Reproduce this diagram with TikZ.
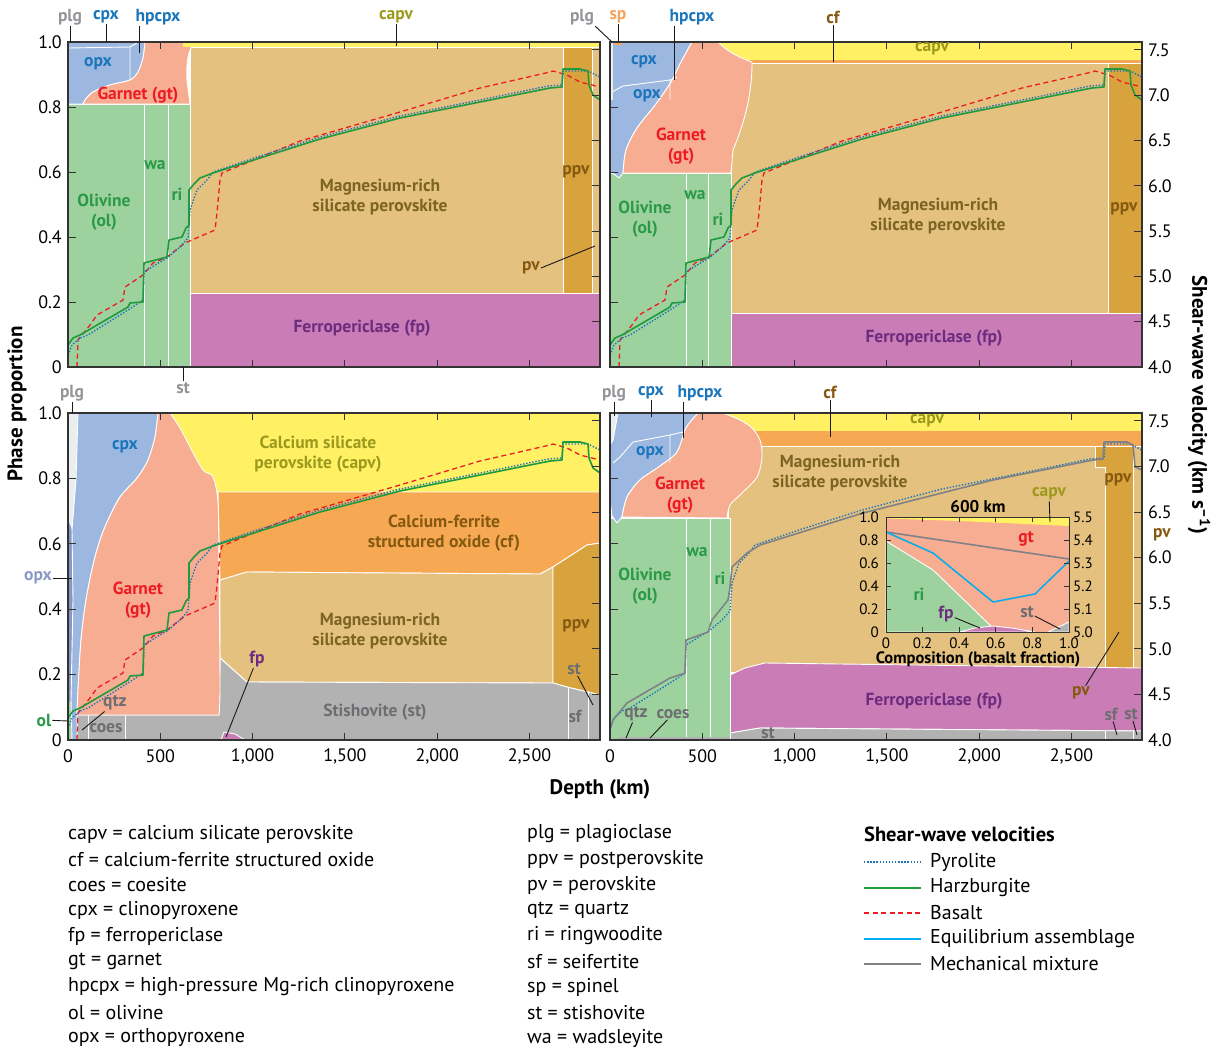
\documentclass[tikz,border=0pt]{standalone}
\usepackage{fontspec}
\setmainfont{PT Sans}
\usetikzlibrary{positioning}

\definecolor{olgreen}{HTML}{9DD29E}
\definecolor{pxblue}{HTML}{9DB8E0}
\definecolor{opxslate}{HTML}{8896C6}
\definecolor{gtpink}{HTML}{F6AD92}
\definecolor{pvtan}{HTML}{E5C17F}
\definecolor{fpmag}{HTML}{C97CB5}
\definecolor{capvyel}{HTML}{FFF163}
\definecolor{ppvgold}{HTML}{D8A33D}
\definecolor{cforange}{HTML}{F6A853}
\definecolor{stgrey}{HTML}{B2B2B2}
\definecolor{plggrey}{HTML}{ECEDEE}
\definecolor{txgreen}{HTML}{2A9A48}
\definecolor{txblue}{HTML}{1A75BB}
\definecolor{txred}{HTML}{EC1C24}
\definecolor{txbrown}{HTML}{7C6422}
\definecolor{txpurple}{HTML}{6E2C80}
\definecolor{txolive}{HTML}{9C9A1E}
\definecolor{txgold}{HTML}{85590F}
\definecolor{txgrey}{HTML}{6D6E71}
\definecolor{txlight}{HTML}{939598}
\definecolor{txorange}{HTML}{F7A35C}
\definecolor{txslate}{HTML}{8A9AC8}
\definecolor{pyroblue}{HTML}{1C75BC}
\definecolor{harzgreen}{HTML}{1F9A3F}
\definecolor{basaltred}{HTML}{ED1C24}
\definecolor{equilblue}{HTML}{00AEEF}
\definecolor{mixgrey}{HTML}{808285}

% velocity profiles
\newcommand{\pyroprofile}{(68,355) -- (72,345) -- (80,338) -- (88,335) -- (128,310) -- (143,300) -- (144,272) -- (160,262) -- (167,258) -- (180,247) -- (188,238) -- (190,210) -- (197,190) -- (207,180) -- (213,172) -- (260,156) -- (320,137) -- (400,116) -- (480,100) -- (548,86) -- (562,85) -- (563,71) -- (588,71) -- (598,76) -- (600,77)}
\newcommand{\harzprofile}{(68,345) -- (73,338) -- (80,335) -- (128,307) -- (130,303) -- (143,302) -- (144,263) -- (167,257) -- (169,240) -- (182,237) -- (186,228) -- (189,225) -- (189,190) -- (194,184) -- (200,178) -- (213,173) -- (260,158) -- (320,139) -- (400,118) -- (480,102) -- (550,88) -- (562,87) -- (563,69) -- (580,69) -- (588,71) -- (589,85) -- (593,95) -- (600,100)}
\newcommand{\basaltprofile}{(77,367) -- (78,340) -- (90,325) -- (97,315) -- (123,300) -- (125,287) -- (143,275) -- (153,263) -- (167,257) -- (185,243) -- (215,230) -- (217,213) -- (220,180) -- (222,173) -- (300,141) -- (400,112) -- (480,88) -- (550,72) -- (553,71) -- (567,75) -- (580,82) -- (600,87)}
\newcommand{\mixprofile}{(610,730) -- (613,720) -- (627,703) -- (670,678) -- (685,673) -- (686,640) -- (708,632) -- (712,620) -- (728,600) -- (730,587) -- (732,567) -- (747,553) -- (760,545) -- (863,513) -- (993,480) -- (1093,460) -- (1103,459) -- (1104,442) -- (1127,442) -- (1133,445) -- (1135,467) -- (1142,470)}

\begin{document}
\begin{tikzpicture}[x = 1pt, y = -1pt,
    phase/.style = {draw = white, line width = 0.9pt, line join = round},
    divider/.style = {draw = white, line width = 0.9pt},
    frame/.style = {draw = black!80, line width = 1.1pt},
    tickmark/.style = {draw = black!80, line width = 1pt},
    leader/.style = {draw = black!90, line width = 0.9pt},
    lbl/.style = {font = \bfseries\fontsize{17.5}{19.5}\selectfont, align = center, inner sep = 1pt},
    num/.style = {font = \fontsize{18}{18}\selectfont, inner sep = 1pt},
    insetnum/.style = {font = \fontsize{15}{15}\selectfont, inner sep = 1pt},
    title/.style = {font = \bfseries\fontsize{21}{22}\selectfont, inner sep = 1pt},
    legtext/.style = {font = \fontsize{20}{21}\selectfont, anchor = west, inner sep = 0pt},
    pyro/.style = {draw = pyroblue, line width = 1.4pt, dash pattern = on 1.4pt off 1.7pt},
    harz/.style = {draw = harzgreen, line width = 1.6pt, line join = round},
    basalt/.style = {draw = basaltred, line width = 1.3pt, dash pattern = on 5pt off 3.5pt},
    equil/.style = {draw = equilblue, line width = 1.5pt, line join = round},
    mix/.style = {draw = mixgrey, line width = 1.6pt, line join = round}]
\useasboundingbox (0,0) rectangle (1212,1050);

% top left: pyrolite
\filldraw[pvtan, phase] (190,47) rectangle (563,293);
\filldraw[ppvgold, phase] (563,47) rectangle (592,293);
\filldraw[pvtan, phase] (592,47) rectangle (600,293);
\filldraw[fpmag, phase] (190,293) rectangle (600,367);
\filldraw[olgreen, phase] (68,104) rectangle (190,367);
\draw[divider] (144,104) -- (144,367) (168,104) -- (168,367);
\filldraw[pxblue, phase] (68,42) -- (145,42) -- plot[smooth] coordinates {(145,42) (143,58) (138,72) (130,80) (110,85) (93,92) (85,100) (83,104)} -- (68,104) -- cycle;
\filldraw[gtpink, phase] (83,104) -- plot[smooth] coordinates {(83,104) (85,100) (93,92) (110,85) (130,80) (138,72) (143,58) (145,42)} -- (195,42) .. controls (188,50) and (186,62) .. (187,80) -- (190,104) -- cycle;
\draw[divider] (68,48) -- (130,47) -- (137,43) (130,47) -- (130,80);
\fill[capvyel] (183,42) rectangle (600,47);

% top right: harzburgite
\fill[capvyel] (700,42) rectangle (1142,60);
\fill[cforange] (745,60) rectangle (1142,63.5);
\filldraw[pvtan, phase] (731,63.5) rectangle (1108,313);
\filldraw[ppvgold, phase] (1108,63.5) rectangle (1142,313);
\filldraw[fpmag, phase] (731,313) rectangle (1142,367);
\filldraw[olgreen, phase] (610,173) rectangle (731,367);
\draw[divider] (686,173) -- (686,367) (708,173) -- (708,367);
\filldraw[pxblue, phase] (610,42) -- (692,42) -- plot[smooth] coordinates {(692,42) (681,62) (671,82) (656,104) (637,128) (626,150) (623,173)} -- (619,178) -- (614,174) -- (610,173) -- cycle;
\filldraw[gtpink, phase] (623,173) -- plot[smooth] coordinates {(623,173) (626,150) (637,128) (656,104) (671,82) (681,62) (692,42)} -- (718,42) .. controls (728,52) and (740,58) .. (752,62) .. controls (752,100) and (742,128) .. (733,150) -- (731,173) -- cycle;
\draw[divider] (612,92) -- (623,86) -- (670,80) -- (677,77) (670,80) -- (670,100);
\fill[plggrey] (610,42) rectangle (613,100);
\fill[txorange] (614,42) rectangle (622,45);

% bottom left: basalt
\fill[capvyel] (160,413) rectangle (600,492);
\filldraw[cforange, phase] (218,492) -- (600,492) -- (600,543) -- (587,545) -- (553,567) -- (540,574) -- (247,572) -- (220,580) -- cycle;
\filldraw[pvtan, phase] (220,580) -- (247,572) -- (540,574) -- (553,567) -- (553,683) -- (247,682) -- (220,658) -- cycle;
\filldraw[ppvgold, phase] (553,567) -- (587,545) -- (600,543) -- (600,695) -- (567,687) -- (553,683) -- cycle;
\filldraw[stgrey, phase] (220,658) -- (247,682) -- (553,683) -- (567,687) -- (600,695) -- (600,740) -- (77,740) -- (77,715) -- (219,715) -- cycle;
\draw[divider] (88,715) -- (88,740) (125,715) -- (125,740) (568,687) -- (568,740) (588,691) -- (588,740);
\filldraw[fpmag, phase] (221,740) -- (224,732) -- (235,734) -- (245,740) -- cycle;
\fill[plggrey] (68,413) -- (78,413) -- (76,480) -- (72,530) -- (68,540) -- cycle;
\fill[opxslate] (68,520) -- (72,530) -- (73,600) -- (71,700) -- (68,705) -- cycle;
\fill[olgreen] (68,705) -- (71,700) -- (72,740) -- (68,740) -- cycle;
\filldraw[pxblue, phase] (78,413) -- (158,413) -- plot[smooth] coordinates {(158,413) (155,437) (148,460) (137,478) (120,497) (108,520) (100,540) (93,565) (86,600) (81,640) (78,690) (77,715)} -- (77,740) -- (72,740) -- (71,700) -- (73,600) -- (72,530) -- (76,480) -- cycle;
\filldraw[gtpink, phase] (77,715) -- plot[smooth] coordinates {(77,715) (78,690) (81,640) (86,600) (93,565) (100,540) (108,520) (120,497) (137,478) (148,460) (155,437) (158,413)} -- (170,413) -- plot[smooth] coordinates {(170,413) (180,428) (190,447) (203,470) (213,477) (218,503) (219,570) (220,687) (219,715)} -- cycle;

% bottom right: mechanical mixture
\fill[capvyel] (720,413) rectangle (1142,431);
\fill[cforange] (745,431) rectangle (1142,446);
\filldraw[pvtan, phase] (728,446) rectangle (1142,672);
\filldraw[ppvgold, phase] (1095,446) -- (1133,446) -- (1133,668) -- (1105,668) -- (1105,467) -- (1095,467) -- cycle;
\filldraw[fpmag, phase] (730,675) -- (745,668) -- (765,663) -- (1142,668) -- (1142,731) -- (760,728) -- (730,733) -- cycle;
\filldraw[stgrey, phase] (730,733) -- (760,728) -- (1142,731) -- (1142,740) -- (730,740) -- cycle;
\draw[divider] (1105,731) -- (1105,740) (1133,731) -- (1133,740);
\filldraw[olgreen, phase] (610,518) rectangle (730,740);
\draw[divider] (686,518) -- (686,740) (710,518) -- (710,740);
\fill[stgrey] (618,737) rectangle (730,740);
\fill[plggrey] (610,413) -- (618,413) -- (613,440) -- (610,445) -- cycle;
\filldraw[pxblue, phase] (610,445) -- (613,440) -- (618,413) -- (698,413) -- plot[smooth] coordinates {(698,413) (686,428) (677,452) (660,466) (640,480) (627,497) (622,517)} -- (617,523) -- (612,516) -- (610,500) -- cycle;
\filldraw[gtpink, phase] (622,517) -- plot[smooth] coordinates {(622,517) (627,497) (640,480) (660,466) (677,452) (686,428) (698,413)} -- (723,413) -- plot[smooth] coordinates {(723,413) (740,420) (752,428) (760,440) (762,457) (757,477) (742,493) (730,505) (727,518)} -- cycle;
\draw[divider] (613,463) -- (620,457) -- (633,442) -- (670,435) -- (683,432) (670,435) -- (670,463);

% velocity profiles
\foreach \dx/\dy in {0/0, 542/0, 0/373} {
  \begin{scope}[shift = {(\dx,\dy)}]
    \clip (68,42) rectangle (600,367);
    \draw[basalt] \basaltprofile;
    \draw[pyro] \pyroprofile;
    \draw[harz] \harzprofile;
  \end{scope}
}
\begin{scope}
  \clip (610,413) rectangle (1142,740);
  \begin{scope}[shift = {(542,373)}]
    \draw[pyro] \pyroprofile;
  \end{scope}
  \draw[mix] \mixprofile;
\end{scope}

% frames and ticks
\foreach \px/\py/\ph in {68/367/325, 610/367/325, 68/740/327, 610/740/327} {
  \draw[frame] (\px,\py-\ph) rectangle (\px+532,\py);
  \foreach \d in {500,1000,...,2500} {
    \draw[tickmark] (\px+0.1846*\d,\py) -- ++(0,-7);
    \draw[tickmark] (\px+0.1846*\d,\py-\ph) -- ++(0,7);
  }
  \foreach \p in {0.2,0.4,0.6,0.8}
    \draw[tickmark] (\px,\py-\ph*\p) -- ++(8,0);
  \foreach \v in {0.5,1,1.5,2,2.5,3,3.5}
    \draw[tickmark] (\px+532,\py-\ph*\v/3.587) -- ++(-8,0);
}

% axis numbers
\foreach \py/\ph in {367/325, 740/327}
  \foreach \p/\t [count = \i] in {0/0, 0.2/0.2, 0.4/0.4, 0.6/0.6, 0.8/0.8, 1/1.0}
    \node[num, anchor = east] (yl\py\i) at (63,\py-\ph*\p) {\t};
\foreach \py/\ph in {367/325, 740/327}
  \foreach \v/\t [count = \i] in {0/4.0, 0.5/4.5, 1/5.0, 1.5/5.5, 2/6.0, 2.5/6.5, 3/7.0, 3.5/7.5}
    \node[num, anchor = west] (yr\py\i) at (1147,\py-\ph*\v/3.587) {\t};
\foreach \px in {68,610}
  \foreach \d/\t [count = \i] in {0/0, 500/500, 1000/{1,000}, 1500/{1,500}, 2000/{2,000}, 2500/{2,500}}
    \node[num] (xd\px\i) at (\px+0.1846*\d,756) {\t};

\node[title] (depth) at (600,789) {Depth (km)};
\node[title, rotate = 90] (phaseprop) at (17,404) {Phase proportion};
\node[title, rotate = -90] (vs) at (1199,405) {Shear-wave velocity (km s\textsuperscript{--1})};

% labels, top left
\node[lbl, text = txlight] (tl-plg) at (70,17) {plg};
\node[lbl, text = txblue] (tl-cpx) at (106,17) {cpx};
\node[lbl, text = txblue] (tl-hpcpx) at (158,17) {hpcpx};
\node[lbl, text = txolive] (tl-capv) at (396,17) {capv};
\coordinate (tl-plgend) at (70,42);
\coordinate (tl-cpxend) at (106,42);
\coordinate (tl-hpcpxend) at (139,53);
\coordinate (tl-capvend) at (396,46);
\draw[leader] (tl-plg) -- (tl-plgend);
\draw[leader] (tl-cpx) -- (tl-cpxend);
\draw[leader] (tl-hpcpx.south -| tl-hpcpxend) -- (tl-hpcpxend);
\draw[leader] (tl-capv) -- (tl-capvend);
\node[lbl, text = txblue] (tl-opx) at (98,64) {opx};
\node[lbl, text = txred] (tl-gt) at (138,95) {Garnet (gt)};
\node[lbl, text = txgreen] (tl-wa) at (155,165) {wa};
\node[lbl, text = txgreen] (tl-ri) at (177,194) {ri};
\node[lbl, text = txgreen] (tl-ol) at (104,212) {Olivine\\(ol)};
\node[lbl, text = txbrown] (tl-mgpv) at (380,197) {Magnesium-rich\\silicate perovskite};
\node[lbl, text = txgold] (tl-ppv) at (576,172) {ppv};
\node[lbl, text = txgold] (tl-pv) at (531,268) {pv};
\coordinate (tl-pvend) at (595,246);
\draw[leader] (tl-pv.east) -- (tl-pvend);
\node[lbl, text = txpurple] (tl-fp) at (362,328) {Ferropericlase (fp)};
\node[lbl, text = txlight] (tl-st) at (183,388) {st};
\coordinate (tl-stend) at (183,367);
\draw[leader] (tl-st) -- (tl-stend);

% labels, top right
\node[lbl, text = txlight] (tr-plg) at (582,17) {plg};
\node[lbl, text = txorange] (tr-sp) at (618,17) {sp};
\node[lbl, text = txblue] (tr-hpcpx) at (692,17) {hpcpx};
\node[lbl, text = txgold] (tr-cf) at (833,17) {cf};
\coordinate (tr-plgend) at (612,42);
\coordinate (tr-spend) at (618,42);
\coordinate (tr-hpcpxend) at (674,80);
\coordinate (tr-cfend) at (833,62);
\draw[leader] (tr-plg.south east) -- (tr-plgend);
\draw[leader] (tr-sp) -- (tr-spend);
\draw[leader] (tr-hpcpx.south -| tr-hpcpxend) -- (tr-hpcpxend);
\draw[leader] (tr-cf) -- (tr-cfend);
\node[lbl, text = txolive] (tr-capv) at (932,49) {capv};
\node[lbl, text = txblue] (tr-cpx) at (644,62) {cpx};
\node[lbl, text = txblue] (tr-opx) at (647,96) {opx};
\node[lbl, text = txred] (tr-gt) at (681,146) {Garnet\\(gt)};
\node[lbl, text = txgreen] (tr-wa) at (695,195) {wa};
\node[lbl, text = txgreen] (tr-ri) at (718,219) {ri};
\node[lbl, text = txgreen] (tr-ol) at (645,219) {Olivine\\(ol)};
\node[lbl, text = txbrown] (tr-mgpv) at (938,216) {Magnesium-rich\\silicate perovskite};
\node[lbl, text = txgold] (tr-ppv) at (1124,209) {ppv};
\node[lbl, text = txpurple] (tr-fp) at (934,338) {Ferropericlase (fp)};

% labels, bottom left
\node[lbl, text = txlight] (bl-plg) at (72,393) {plg};
\coordinate (bl-plgend) at (72,413);
\draw[leader] (bl-plg) -- (bl-plgend);
\node[lbl, text = txblue] (bl-cpx) at (125,447) {cpx};
\node[lbl, text = txslate] (bl-opx) at (38,578) {opx};
\coordinate (bl-opxend) at (72,578);
\draw[leader] (bl-opx) -- (bl-opxend);
\node[lbl, text = txred] (bl-gt) at (138,600) {Garnet\\(gt)};
\node[lbl, text = txolive] (bl-capv) at (318,454) {Calcium silicate\\perovskite (capv)};
\node[lbl, text = txgold] (bl-cf) at (444,533) {Calcium-ferrite\\structured oxide (cf)};
\node[lbl, text = txbrown] (bl-mgpv) at (380,631) {Magnesium-rich\\silicate perovskite};
\node[lbl, text = txpurple] (bl-fp) at (257,659) {fp};
\coordinate (bl-fpend) at (226,737);
\draw[leader] (bl-fp) -- (bl-fpend);
\node[lbl, text = txgrey] (bl-st) at (375,712) {Stishovite (st)};
\node[lbl, text = txgold] (bl-ppv) at (576,626) {ppv};
\node[lbl, text = txgrey] (bl-st2) at (574,669) {st};
\coordinate (bl-st2end) at (593,705);
\draw[leader] (bl-st2) -- (bl-st2end);
\node[lbl, text = txgrey] (bl-sf) at (575,716) {sf};
\node[lbl, text = txgrey] (bl-qtz) at (115,703) {qtz};
\coordinate (bl-qtzend) at (82,730);
\draw[leader] (bl-qtz) -- (bl-qtzend);
\node[lbl, text = txgrey] (bl-coes) at (106,728) {coes};
\node[lbl, text = txgreen] (bl-ol) at (44,720) {ol};
\coordinate (bl-olend) at (68,721);
\draw[leader] (bl-ol) -- (bl-olend);

% labels, bottom right
\node[lbl, text = txlight] (br-plg) at (614,393) {plg};
\node[lbl, text = txblue] (br-cpx) at (651,393) {cpx};
\node[lbl, text = txblue] (br-hpcpx) at (700,393) {hpcpx};
\node[lbl, text = txgold] (br-cf) at (830,392) {cf};
\coordinate (br-plgend) at (614,416);
\coordinate (br-cpxend) at (651,417);
\coordinate (br-hpcpxend) at (683,438);
\coordinate (br-cfend) at (830,437);
\draw[leader] (br-plg) -- (br-plgend);
\draw[leader] (br-cpx) -- (br-cpxend);
\draw[leader] (br-hpcpx.south -| br-hpcpxend) -- (br-hpcpxend);
\draw[leader] (br-cf) -- (br-cfend);
\node[lbl, text = txolive] (br-capv) at (927,421) {capv};
\node[lbl, text = txblue] (br-opx) at (650,453) {opx};
\node[lbl, text = txred] (br-gt) at (680,495) {Garnet\\(gt)};
\node[lbl, text = txbrown] (br-mgpv) at (840,473) {Magnesium-rich\\silicate perovskite};
\node[lbl, text = txgreen] (br-ol) at (645,586) {Olivine\\(ol)};
\node[lbl, text = txgreen] (br-wa) at (697,552) {wa};
\node[lbl, text = txgreen] (br-ri) at (720,578) {ri};
\node[lbl, text = txgold] (br-ppv) at (1118,480) {ppv};
\node[lbl, text = txgold] (br-pvout) at (1162,535) {pv};
\node[lbl, text = txgold] (br-pv) at (1081,693) {pv};
\coordinate (br-pvend) at (1119,632);
\draw[leader] (br-pv) -- (br-pvend);
\node[lbl, text = txpurple] (br-fp) at (934,701) {Ferropericlase (fp)};
\node[lbl, text = txgrey] (br-sf) at (1111,714) {sf};
\node[lbl, text = txgrey] (br-st) at (1131,714) {st};
\coordinate (br-sfend) at (1117,735);
\coordinate (br-stend) at (1137,735);
\draw[leader] (br-sf) -- (br-sfend);
\draw[leader] (br-st) -- (br-stend);
\node[lbl, text = txgrey] (br-st2) at (768,733) {st};
\node[lbl, text = txgrey] (br-qtz) at (636,714) {qtz};
\node[lbl, text = txgrey] (br-coes) at (673,714) {coes};
\coordinate (br-qtzend) at (626,738);
\coordinate (br-coesend) at (650,738);
\draw[leader] (br-qtz) -- (br-qtzend);
\draw[leader] (br-coes) -- (br-coesend);

% inset: 600 km
\fill[gtpink] (886,517) rectangle (1069,632);
\fill[capvyel] (886,517) -- (1069,517) -- (1069,526) -- (960,521) -- (886,518.5) -- cycle;
\filldraw[olgreen, phase] (886,541) -- (933,570) -- (993,628) -- (993,632) -- (886,632) -- cycle;
\filldraw[fpmag, phase] (960,632) -- (975,628) -- (993,626) -- (1012,628) -- (1035,632) -- cycle;
\filldraw[stgrey, phase] (1048,632) -- (1069,622) -- (1069,632) -- cycle;
\draw[mix] (886,532) -- (1069,559);
\draw[equil] (886,532) -- (933,553) -- (993,602) -- (1035,594) -- (1069,561);
\draw[frame, line width = 1pt] (886,517) rectangle (1069,632);
\foreach \c in {0.2,0.4,0.6,0.8} {
  \draw[tickmark, line width = 0.8pt] (886+183*\c,632) -- ++(0,-5);
  \draw[tickmark, line width = 0.8pt] (886+183*\c,517) -- ++(0,5);
  \draw[tickmark, line width = 0.8pt] (886,632-115*\c) -- ++(5,0);
  \draw[tickmark, line width = 0.8pt] (1069,632-115*\c) -- ++(-5,0);
}
\foreach \p/\t [count = \i] in {0/0, 0.2/0.2, 0.4/0.4, 0.6/0.6, 0.8/0.8, 1/1.0}
  \node[insetnum, anchor = east] (il\i) at (880,632-115*\p) {\t};
\foreach \p/\t [count = \i] in {0/5.0, 0.2/5.1, 0.4/5.2, 0.6/5.3, 0.8/5.4, 1/5.5}
  \node[insetnum, anchor = west] (ir\i) at (1072,632-115*\p) {\t};
\foreach \c/\t [count = \i] in {0/0, 0.2/0.2, 0.4/0.4, 0.6/0.6, 0.8/0.8, 1/1.0}
  \node[insetnum] (ib\i) at (886+183*\c,643) {\t};
\node[font = \bfseries\fontsize{17}{17}\selectfont] (ititle) at (978,507) {600 km};
\node[font = \bfseries\fontsize{16.5}{17}\selectfont] (ixlabel) at (978,659) {Composition (basalt fraction)};
\node[lbl, text = txolive] (in-capv) at (1049,494) {capv};
\coordinate (in-capvend) at (1050,522);
\draw[leader] (in-capv) -- (in-capvend);
\node[lbl, text = txred] (in-gt) at (1026,539) {gt};
\node[lbl, text = txgreen] (in-ri) at (919,594) {ri};
\node[lbl, text = txpurple] (in-fp) at (946,614) {fp};
\coordinate (in-fpend) at (980,628);
\draw[leader] (in-fp) -- (in-fpend);
\node[lbl, text = txgrey] (in-st) at (1027,612) {st};
\coordinate (in-stend) at (1060,629);
\draw[leader] (in-st) -- (in-stend);

% legend
\foreach \t [count = \i] in {capv = calcium silicate perovskite, cf = calcium-ferrite structured oxide, coes = coesite, cpx = clinopyroxene, fp = ferropericlase, gt = garnet, hpcpx = high-pressure Mg-rich clinopyroxene, ol = olivine, opx = orthopyroxene}
  \node[legtext] (lga\i) at (68,834+25.5*\i-25.5) {\t};
\foreach \t [count = \i] in {plg = plagioclase, ppv = postperovskite, pv = perovskite, qtz = quartz, ri = ringwoodite, sf = seifertite, sp = spinel, st = stishovite, wa = wadsleyite}
  \node[legtext] (lgb\i) at (527,834+25.5*\i-25.5) {\t};
\node[legtext, font = \bfseries\fontsize{20.5}{21}\selectfont] (lgvs) at (864,834) {Shear-wave velocities};
\node[legtext] (lv-pyro) at (930,862) {Pyrolite};
\node[legtext] (lv-harz) at (930,888) {Harzburgite};
\node[legtext] (lv-basalt) at (930,913) {Basalt};
\node[legtext] (lv-equil) at (930,939) {Equilibrium assemblage};
\node[legtext] (lv-mix) at (930,964) {Mechanical mixture};
\coordinate (pyroA) at (864,862);  \coordinate (pyroB) at (921,862);
\coordinate (harzA) at (864,888);  \coordinate (harzB) at (921,888);
\coordinate (basaltA) at (864,913); \coordinate (basaltB) at (921,913);
\coordinate (equilA) at (864,939); \coordinate (equilB) at (921,939);
\coordinate (mixA) at (864,964);   \coordinate (mixB) at (921,964);
\draw[pyro] (pyroA) -- (pyroB);
\draw[harz] (harzA) -- (harzB);
\draw[basalt] (basaltA) -- (basaltB);
\draw[equil] (equilA) -- (equilB);
\draw[mix] (mixA) -- (mixB);
\end{tikzpicture}
\end{document}
